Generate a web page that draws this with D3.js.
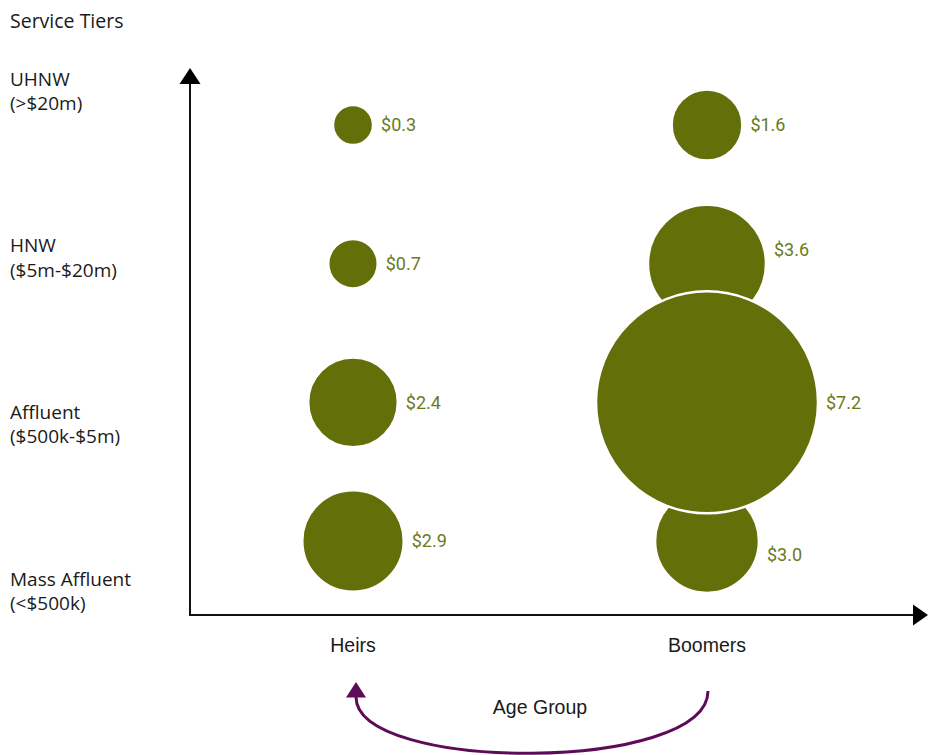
<!DOCTYPE html>
<html>
<head>
<meta charset="utf-8">
<script src="https://cdn.jsdelivr.net/npm/d3@7"></script>
<style>
  body { margin: 0; background: #fff; }
  text { fill: #1a1a1a; }
</style>
</head>
<body>
<div id="chart"></div>
<script>
//---------------------------------------------------------
// DATA

const tiers = ["UHNW", "HNW", "Affluent", "Mass Affluent"]
const tierRanges = ["(>$20m)", "($5m-$20m)", "($500k-$5m)", "(<$500k)"]
const groups = ["Heirs", "Boomers"]
const heirs = [0.3, 0.7, 2.4, 2.9]
const boomers = [1.6, 3.6, 7.2, 3.0]

const bubbles = [
  ...tiers.map((t, i) => ({group: "Heirs", tier: t, value: heirs[i]})),
  ...tiers.map((t, i) => ({group: "Boomers", tier: t, value: boomers[i]}))
]

//---------------------------------------------------------
// SETUP

const width = 930, height = 755
const olive = '#637009'
const labelColor = '#6b7a1c'
const purple = '#5e0c57'
const leftFont = '"Open Sans", sans-serif'
const narrowFont = '"Liberation Sans Narrow", "Liberation Sans", sans-serif'

const svg = d3.select('#chart').append('svg')
  .attr('width', width).attr('height', height)

const origin = {x: 190, y: 615}
const axisEnd = {x: 928, y: 68}

const x = d3.scalePoint().domain(groups).range([353, 707])
const y = d3.scalePoint().domain(tiers).range([125, 541])
const labelY = d3.scalePoint().domain(tiers).range([90, 590])
const r = d3.scaleLinear().domain([0, 3.6, 7.2]).range([16.5, 59, 111])

//---------------------------------------------------------
// AXES

svg.append('path')
  .attr('d', `M${origin.x},${axisEnd.y + 15}V${origin.y}H${axisEnd.x - 15}`)
  .attr('fill', 'none')
  .attr('stroke', '#111')
  .attr('stroke-width', 2)

// arrow heads
svg.append('path')
  .attr('d', `M${origin.x},${axisEnd.y}l-10.5,16h21z`)
  .attr('fill', '#000')
svg.append('path')
  .attr('d', `M${axisEnd.x},${origin.y}l-15,-10.5v21z`)
  .attr('fill', '#000')

//---------------------------------------------------------
// LABELS

svg.append('text')
  .attr('x', 10).attr('y', 28)
  .style('font-family', leftFont).style('font-size', '19.5px')
  .text('Service Tiers')

const tierLabels = svg.append('g').selectAll('text')
  .data(tiers)
  .join('text')
  .attr('x', 10)
  .attr('y', d => labelY(d) - 4.5)
  .style('font-family', leftFont).style('font-size', '19px')

tierLabels.append('tspan').attr('x', 10).text(d => d)
tierLabels.append('tspan').attr('x', 10).attr('dy', 24.5).text((d, i) => tierRanges[i])

svg.append('g').selectAll('text')
  .data(groups)
  .join('text')
  .attr('x', d => x(d))
  .attr('y', 651.5)
  .attr('text-anchor', 'middle')
  .style('font-family', narrowFont).style('font-size', '19.5px')
  .text(d => d)

svg.append('text')
  .attr('x', d3.mean(groups, d => x(d)) + 10)
  .attr('y', 714)
  .attr('text-anchor', 'middle')
  .style('font-family', narrowFont).style('font-size', '19.5px')
  .text('Age Group')

//---------------------------------------------------------
// BUBBLES

const sorted = bubbles.slice().sort((a, b) => d3.ascending(a.value, b.value))

svg.append('g').selectAll('circle')
  .data(sorted)
  .join('circle')
  .attr('cx', d => x(d.group))
  .attr('cy', d => y(d.tier))
  .attr('r', d => r(d.value))
  .attr('fill', olive)
  .attr('stroke', '#fff')
  .attr('stroke-width', 2.5)

// nudge a label away from a neighbouring bubble that overlaps it
function overlaps(a, b) {
  if (!b) return false
  return Math.abs(y(a.tier) - y(b.tier)) < r(a.value) + r(b.value)
}
function labelShift(d) {
  const col = bubbles.filter(b => b.group === d.group)
  const i = tiers.indexOf(d.tier)
  const above = overlaps(d, col[i - 1])
  const below = overlaps(d, col[i + 1])
  if (above && below) return 0
  if (above) return 14
  if (below) return -14
  return 0
}

svg.append('g').selectAll('text')
  .data(bubbles)
  .join('text')
  .attr('x', d => x(d.group) + r(d.value) + 8)
  .attr('y', d => y(d.tier) + labelShift(d))
  .attr('dy', '0.35em')
  .style('font-family', 'Roboto, sans-serif').style('font-size', '18px')
  .style('fill', labelColor)
  .text(d => `$${d3.format('.1f')(d.value)}`)

//---------------------------------------------------------
// AGE GROUP ARROW

const from = x('Boomers') + 1, to = x('Heirs') + 3
svg.append('path')
  .attr('d', `M${from},691C${from},773 ${to},773 ${to},697`)
  .attr('fill', 'none')
  .attr('stroke', purple)
  .attr('stroke-width', 3)

svg.append('path')
  .attr('d', `M${to},682l-10,15.5h20z`)
  .attr('fill', purple)
</script>
</body>
</html>
